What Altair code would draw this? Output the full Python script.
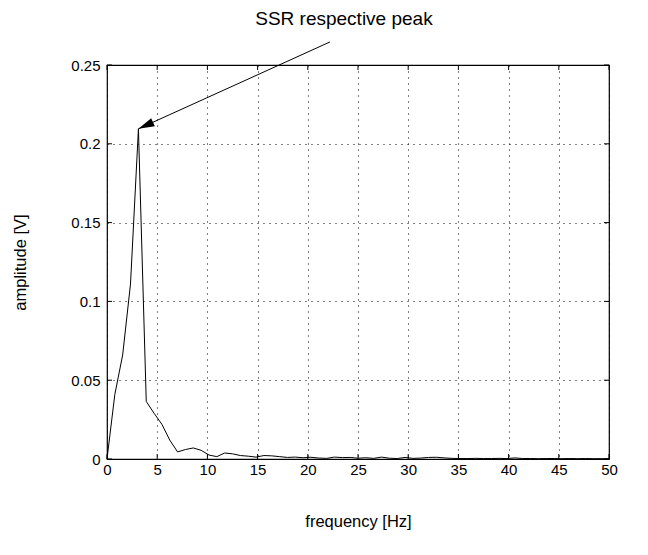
import altair as alt
import pandas as pd

# spectrum (frequency bins in Hz, amplitude in V)
freq = [0.0, 0.78, 1.56, 2.34, 3.13, 3.91, 4.69, 5.47, 6.25, 7.03,
        7.81, 8.59, 9.38, 10.16, 10.94, 11.72, 12.5, 13.28, 14.06, 14.84,
        15.63, 16.41, 17.19, 17.97, 18.75, 19.53, 20.31, 21.09, 21.88, 22.66,
        23.44, 24.22, 25.0, 25.78, 26.56, 27.34, 28.13, 28.91, 29.69, 30.47,
        31.25, 32.03, 32.81, 33.59, 34.38, 35.16, 35.94, 36.72, 37.5, 38.28,
        39.06, 39.84, 40.63, 41.41, 42.19, 42.97, 43.75, 44.53, 45.31, 46.09,
        46.88, 47.66, 48.44, 49.22, 50.0]
amp = [0.0, 0.041, 0.066, 0.111, 0.2095, 0.0365, 0.029, 0.022, 0.012, 0.0045,
       0.006, 0.007, 0.0055, 0.0025, 0.0015, 0.0038, 0.0033, 0.0022, 0.0018, 0.0012,
       0.0022, 0.0020, 0.0015, 0.0010, 0.0012, 0.0008, 0.0011, 0.0006, 0.0004, 0.0012,
       0.0009, 0.0010, 0.0005, 0.0008, 0.0004, 0.0012, 0.0005, 0.0003, 0.0010, 0.0004,
       0.0006, 0.0010, 0.0011, 0.0007, 0.0004, 0.0003, 0.0003, 0.0004, 0.0003, 0.0003,
       0.0004, 0.0003, 0.0007, 0.0003, 0.0003, 0.0002, 0.0003, 0.0003, 0.0002, 0.0003,
       0.0002, 0.0003, 0.0002, 0.0002, 0.0002]

x_ticks = [0, 5, 10, 15, 20, 25, 30, 35, 40, 45, 50]
y_ticks = [0, 0.05, 0.1, 0.15, 0.2, 0.25]

# annotation (data coordinates)
label_text = ["SSR respective peak"]
label_x = [23.6]
label_y = [0.279]
arrow_x = [22.2, 3.13]
arrow_y = [0.2646, 0.2095]
arrow_angle = 245.7

W, H = 502, 394
FONT = "Liberation Sans"

xs = alt.Scale(domain=[0, 50], nice=False, zero=False)
ys = alt.Scale(domain=[0, 0.25], nice=False, zero=False)

df = pd.DataFrame({"x": freq, "y": amp})
dx = pd.DataFrame({"x": x_ticks})
dy = pd.DataFrame({"y": y_ticks})
dlab = pd.DataFrame({"x": label_x, "y": label_y, "t": label_text})
darr = pd.DataFrame({"x": arrow_x, "y": arrow_y})
dtip = pd.DataFrame({"x": arrow_x[1:], "y": arrow_y[1:]})

line = alt.Chart(df).mark_line(color="black", strokeWidth=1).encode(
    x=alt.X("x:Q", scale=xs, axis=alt.Axis(
        values=x_ticks, title="frequency [Hz]", grid=True, gridDash=[1, 5],
        gridColor="black", gridOpacity=1, gridWidth=1, domain=False, ticks=False,
        labelFontSize=15, labelFont=FONT, labelPadding=3, labelColor="black",
        titleFontSize=16.5, titleFont=FONT, titleFontWeight="normal", titlePadding=36,
        titleColor="black", labelFlush=False)),
    y=alt.Y("y:Q", scale=ys, axis=alt.Axis(
        values=y_ticks, format="~g", title="amplitude [V]", grid=True, gridDash=[1, 5],
        gridColor="black", gridOpacity=1, gridWidth=1, domain=False, ticks=False,
        labelFontSize=15, labelFont=FONT, labelPadding=7, labelColor="black",
        titleFontSize=16.5, titleFont=FONT, titleFontWeight="normal", titlePadding=42,
        titleColor="black", labelFlush=False)),
)

tick_bottom = alt.Chart(dx).mark_rule(color="black", strokeWidth=1).encode(
    x=alt.X("x:Q", scale=xs), y=alt.value(H), y2=alt.value(H - 5))
tick_top = alt.Chart(dx).mark_rule(color="black", strokeWidth=1).encode(
    x=alt.X("x:Q", scale=xs), y=alt.value(0), y2=alt.value(5))
tick_left = alt.Chart(dy).mark_rule(color="black", strokeWidth=1).encode(
    y=alt.Y("y:Q", scale=ys), x=alt.value(0), x2=alt.value(5))
tick_right = alt.Chart(dy).mark_rule(color="black", strokeWidth=1).encode(
    y=alt.Y("y:Q", scale=ys), x=alt.value(W), x2=alt.value(W - 5))

arrow = alt.Chart(darr).mark_line(color="black", strokeWidth=1, clip=False).encode(
    x=alt.X("x:Q", scale=xs), y=alt.Y("y:Q", scale=ys))
head = alt.Chart(dtip).mark_point(
    shape="M0,0 L-0.28,1 L0.28,1 Z", filled=True, size=1024, angle=arrow_angle,
    color="black", opacity=1, strokeWidth=0, clip=False).encode(
    x=alt.X("x:Q", scale=xs), y=alt.Y("y:Q", scale=ys))
label = alt.Chart(dlab).mark_text(
    font=FONT, fontSize=19, color="black", align="center", baseline="middle",
    clip=False).encode(
    x=alt.X("x:Q", scale=xs), y=alt.Y("y:Q", scale=ys), text="t:N")

chart = alt.layer(line, tick_bottom, tick_top, tick_left, tick_right, arrow, head, label).properties(
    width=W, height=H,
    padding={"left": 99, "top": 57, "right": 31, "bottom": 96},
    autosize=alt.AutoSizeParams(type="none"),
    background="white",
).configure_view(stroke="black", strokeWidth=1.2)

chart.save("out.html", embed_options={"renderer": "svg", "actions": False})
